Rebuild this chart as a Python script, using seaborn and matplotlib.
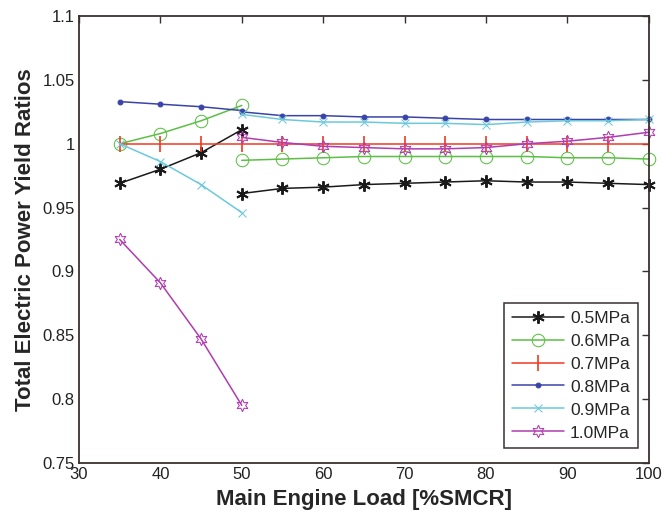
import numpy as np
import pandas as pd
import matplotlib
matplotlib.use("Agg")
import matplotlib.pyplot as plt
import seaborn as sns

# ---- data ----
series = ["0.5MPa", "0.6MPa", "0.7MPa", "0.8MPa", "0.9MPa", "1.0MPa"]
x_low = [35, 40, 45, 50]
x_high = [50, 55, 60, 65, 70, 75, 80, 85, 90, 95, 100]
x_full = [35, 40, 45, 50, 55, 60, 65, 70, 75, 80, 85, 90, 95, 100]

p05_low = [0.969, 0.980, 0.993, 1.011]
p05_high = [0.961, 0.965, 0.966, 0.968, 0.969, 0.970, 0.971, 0.970, 0.970, 0.969, 0.968]
p06_low = [1.000, 1.008, 1.018, 1.030]
p06_high = [0.987, 0.988, 0.989, 0.990, 0.990, 0.990, 0.990, 0.990, 0.989, 0.989, 0.988]
p07_full = [1.000] * 14
p08_low = [1.033, 1.031, 1.029, 1.026]
p08_high = [1.025, 1.022, 1.022, 1.021, 1.021, 1.020, 1.019, 1.019, 1.019, 1.019, 1.019]
p09_low = [1.000, 0.986, 0.968, 0.946]
p09_high = [1.023, 1.019, 1.017, 1.017, 1.016, 1.016, 1.015, 1.017, 1.018, 1.018, 1.019]
p10_low = [0.925, 0.891, 0.847, 0.795]
p10_high = [1.005, 1.001, 0.998, 0.997, 0.996, 0.996, 0.997, 1.000, 1.002, 1.005, 1.009]

x_ticks = [30, 40, 50, 60, 70, 80, 90, 100]
y_ticks = [0.75, 0.8, 0.85, 0.9, 0.95, 1.0, 1.05, 1.1]
y_tick_labels = ["0.75", "0.8", "0.85", "0.9", "0.95", "1", "1.05", "1.1"]

segments = {
    "0.5MPa": [(x_low, p05_low), (x_high, p05_high)],
    "0.6MPa": [(x_low, p06_low), (x_high, p06_high)],
    "0.7MPa": [(x_full, p07_full)],
    "0.8MPa": [(x_low, p08_low), (x_high, p08_high)],
    "0.9MPa": [(x_low, p09_low), (x_high, p09_high)],
    "1.0MPa": [(x_low, p10_low), (x_high, p10_high)],
}

colors = {
    "0.5MPa": "#1a1a1a",
    "0.6MPa": "#5cbf45",
    "0.7MPa": "#f03a22",
    "0.8MPa": "#3a44a8",
    "0.9MPa": "#6cc9dc",
    "1.0MPa": "#b03cb0",
}
asterisk = (6, 2, 0)
hexagram = (6, 1, 0)
styles = {
    "0.5MPa": dict(marker=asterisk, markersize=9, markeredgewidth=1.4),
    "0.6MPa": dict(marker="o", markersize=9, markerfacecolor="none"),
    "0.7MPa": dict(marker="|", markersize=11, markeredgewidth=1.2),
    "0.8MPa": dict(marker="o", markersize=3.5, markerfacecolor="#3a44a8"),
    "0.9MPa": dict(marker="x", markersize=6),
    "1.0MPa": dict(marker=hexagram, markersize=9, markerfacecolor="none"),
}

sns.set_theme(style="white")
plt.rcParams["font.family"] = ["Liberation Sans", "DejaVu Sans"]

fig = plt.figure(figsize=(6.64, 5.2), dpi=100)
ax = fig.add_axes([0.119, 0.110, 0.858, 0.859])

for name in series:
    for i, (xs, ys) in enumerate(segments[name]):
        df = pd.DataFrame({"x": xs, "y": ys})
        sns.lineplot(data=df, x="x", y="y", ax=ax, color=colors[name],
                     linewidth=1.1, markeredgecolor=colors[name],
                     label=name if i == 0 else None, legend=False,
                     clip_on=False, **styles[name])

ax.set_xlim(30, 100)
ax.set_ylim(0.75, 1.1)
ax.set_xticks(x_ticks)
ax.set_xticklabels([str(v) for v in x_ticks])
ax.set_yticks(y_ticks)
ax.set_yticklabels(y_tick_labels)
ax.tick_params(direction="in", length=5, width=1, top=True, right=True,
               labelsize=12, colors="#333333", pad=3)
ax.tick_params(axis="both", labelcolor="#222222")
for s in ax.spines.values():
    s.set_color("#3a3030")
    s.set_linewidth(1.3)

ax.set_xlabel("Main Engine Load [%SMCR]", fontsize=16, fontweight="bold", labelpad=5)
ax.set_ylabel("Total Electric Power Yield Ratios", fontsize=16, fontweight="bold", labelpad=5)

handles, labels = ax.get_legend_handles_labels()
leg = ax.legend(handles, labels, loc="lower right", fontsize=12.5, frameon=True,
                fancybox=False, edgecolor="#3a3030", framealpha=1,
                handlelength=3.0, numpoints=1, borderpad=0.45,
                labelspacing=0.45, handletextpad=0.35,
                bbox_to_anchor=(0.996, 0.013))
leg.get_frame().set_linewidth(1.1)

fig.savefig("out.png", dpi=100)
